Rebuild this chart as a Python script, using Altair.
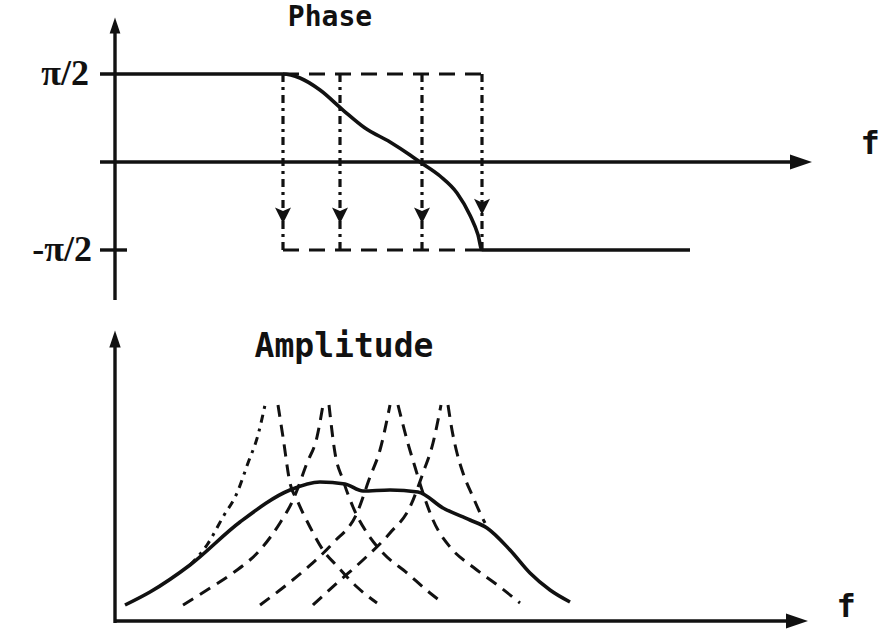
import math

import altair as alt
import pandas as pd

HALF_PI = math.pi / 2
INK = "#111111"
TITLE_FONT = "DejaVu Sans Mono"
LABEL_FONT = "Liberation Serif"

# Shared frequency scale (arbitrary units, 0 at the vertical axis)
F_DOMAIN = [-11.5, 76.5]

# ---------------- Phase panel data ----------------
phase_f = [-1.5, 0.0, 16.8, 18.5, 20.5, 22.8, 25.0, 27.5, 29.5, 30.5,
           32.5, 34.2, 35.5, 36.3, 36.7, 57.5]
phase_rad = [HALF_PI, HALF_PI, HALF_PI, 1.499, 1.285, 0.928, 0.607, 0.357,
             0.125, 0.0, -0.250, -0.553, -0.950, -1.300, -HALF_PI, -HALF_PI]

# Resonance frequencies of the individual modes
mode_f = [16.8, 22.5, 30.7, 36.7]
mode_arrow_phase = [-0.955, -0.955, -0.955, -0.80]

phase_tick_values = [HALF_PI, -HALF_PI]
phase_tick_labels = ["π/2", "-π/2"]

# ---------------- Amplitude panel data ----------------
amp_f = [1.0, 3.5, 7.5, 12.5, 17.5, 20.5, 23.0, 24.8, 27.5, 30.3, 32.8,
         35.5, 37.2, 39.5, 41.5, 43.5, 45.5]
amp_a = [1.6, 2.9, 5.6, 9.9, 13.1, 13.9, 13.7, 13.0, 13.1, 12.9, 11.3,
         10.1, 9.3, 7.1, 4.8, 3.1, 1.9]

# Individual mode responses: left (rising) and right (falling) branches
mode_branches = {
    "1L": ([7.5, 9.2, 10.8, 12.2, 13.3, 14.3, 15.0],
           [5.6, 7.6, 10.4, 12.8, 15.8, 18.6, 21.6]),
    "1R": ([16.3, 16.8, 17.5, 18.2, 19.5, 20.8, 22.3, 24.2, 26.2],
           [21.6, 18.4, 13.8, 12.1, 9.4, 7.1, 5.4, 3.4, 1.8]),
    "2L": ([6.8, 9.2, 11.8, 14.5, 16.5, 17.8, 19.2, 20.2, 20.8],
           [1.6, 3.1, 4.8, 7.1, 9.8, 12.1, 15.8, 18.4, 21.6]),
    "2R": ([21.4, 22.0, 22.8, 23.8, 25.2, 26.8, 29.2, 31.5, 32.8],
           [21.6, 16.8, 14.1, 11.4, 8.8, 6.8, 4.8, 2.8, 1.8]),
    "3L": ([14.5, 16.5, 19.2, 21.8, 24.2, 25.5, 26.5, 27.5],
           [1.6, 3.1, 5.3, 7.8, 10.8, 14.4, 17.1, 21.6]),
    "3R": ([28.3, 29.2, 30.0, 30.8, 31.8, 33.5, 35.8, 38.5, 40.5],
           [21.6, 18.1, 15.4, 12.8, 10.1, 7.4, 5.4, 3.4, 1.8]),
    "4L": ([19.8, 22.2, 24.8, 27.5, 29.5, 30.8, 31.8, 32.6],
           [1.6, 3.8, 6.1, 8.8, 11.4, 14.8, 17.8, 21.6]),
    "4R": ([33.3, 33.7, 34.2, 34.8, 35.8, 36.7, 37.0],
           [21.6, 19.1, 16.8, 14.8, 12.4, 10.4, 9.8]),
}

PHASE_DOMAIN = [-2.7668, 2.8917]
AMP_DOMAIN = [-1.3, 30.4]

ARROW_UP = "M0,-1L0.67,1L-0.67,1Z"
ARROW_RIGHT = "M1,0L-1,0.68L-1,-0.68Z"
ARROW_DOWN = "M0,1L-1,-1L0,-0.55L1,-1Z"


def xenc(field="f"):
    return alt.X(f"{field}:Q", scale=alt.Scale(domain=F_DOMAIN, nice=False, zero=False), axis=None)


def yenc(field, domain):
    return alt.Y(f"{field}:Q", scale=alt.Scale(domain=domain, nice=False, zero=False), axis=None)


# ---------------- Phase panel ----------------
py = lambda field="p": yenc(field, PHASE_DOMAIN)

phase_curve = alt.Chart(pd.DataFrame({"f": phase_f, "p": phase_rad})).mark_line(
    color=INK, strokeWidth=3.6, interpolate="monotone"
).encode(x=xenc(), y=py())

phase_axes = alt.Chart(pd.DataFrame({
    "f": [0.0, -1.5, -1.5], "f2": [0.0, 67.6, 1.2],
    "p": [-2.463, 0.0, -HALF_PI], "p2": [2.33, 0.0, -HALF_PI],
})).mark_rule(color=INK, strokeWidth=3.4).encode(
    x=xenc(), x2="f2:Q", y=py(), y2="p2:Q"
)

phase_arrow_up = alt.Chart(pd.DataFrame({"f": [0.0], "p": [2.437]})).mark_point(
    shape=ARROW_UP, size=256, filled=True, color=INK, opacity=1
).encode(x=xenc(), y=py())

phase_arrow_right = alt.Chart(pd.DataFrame({"f": [68.6], "p": [0.0]})).mark_point(
    shape=ARROW_RIGHT, size=484, filled=True, color=INK, opacity=1
).encode(x=xenc(), y=py())

mode_df = pd.DataFrame({
    "f": mode_f, "top": [HALF_PI] * 4, "bottom": [-HALF_PI] * 4,
    "arrow": mode_arrow_phase,
})

mode_verticals = alt.Chart(mode_df).mark_rule(
    color=INK, strokeWidth=3.2, strokeDash=[8, 5, 3, 5]
).encode(x=xenc(), y=py("top"), y2="bottom:Q")

mode_arrows = alt.Chart(mode_df).mark_point(
    shape=ARROW_DOWN, size=256, filled=True, color=INK, opacity=1
).encode(x=xenc(), y=py("arrow"))

box_df = pd.DataFrame({
    "f": [mode_f[0], mode_f[0]], "f2": [mode_f[-1], mode_f[-1]],
    "p": [HALF_PI, -HALF_PI], "kind": ["top", "bottom"],
})
box_lines = alt.Chart(box_df).mark_rule(
    color=INK, strokeWidth=3.2, strokeDash=[16, 10]
).encode(x=xenc(), x2="f2:Q", y=py())

tick_labels = alt.Chart(pd.DataFrame({
    "f": [-2.6, -2.3], "p": phase_tick_values, "label": phase_tick_labels,
})).mark_text(
    align="right", baseline="middle", font=LABEL_FONT, fontSize=36,
    fontWeight="bold", color=INK
).encode(x=xenc(), y=py(), text="label:N")

phase_texts = alt.Chart(pd.DataFrame({
    "f": [21.5, 75.5], "p": [2.570, 0.321], "label": ["Phase", "f"],
    "size": [28, 32],
})).mark_text(
    align="center", baseline="middle", font=TITLE_FONT, fontWeight="bold", color=INK
).encode(x=xenc(), y=py(), text="label:N", size=alt.Size("size:Q", scale=None, legend=None))

phase_panel = alt.layer(
    box_lines, mode_verticals, mode_arrows, phase_axes, phase_curve,
    phase_arrow_up, phase_arrow_right, tick_labels, phase_texts,
).properties(width=880, height=317)

# ---------------- Amplitude panel ----------------
ay = lambda field="a": yenc(field, AMP_DOMAIN)

amp_curve = alt.Chart(pd.DataFrame({"f": amp_f, "a": amp_a})).mark_line(
    color=INK, strokeWidth=3.6, interpolate="monotone"
).encode(x=xenc(), y=ay())

rows = []
for name, (fs, vals) in mode_branches.items():
    style = "dashdot" if name == "1L" else "dash"
    for i, (fv, av) in enumerate(zip(fs, vals)):
        rows.append({"branch": name, "style": style, "order": i, "f": fv, "a": av})
branch_df = pd.DataFrame(rows)

mode_curves = alt.Chart(branch_df).mark_line(
    color=INK, strokeWidth=3.0, interpolate="monotone"
).encode(
    x=xenc(), y=ay(), detail="branch:N", order="order:Q",
    strokeDash=alt.StrokeDash(
        "style:N",
        scale=alt.Scale(domain=["dash", "dashdot"], range=[[12, 8], [8, 6, 3, 6]]),
        legend=None,
    ),
)

amp_axes = alt.Chart(pd.DataFrame({
    "f": [0.0, 0.0], "f2": [0.0, 67.4], "a": [-0.2, 0.0], "a2": [27.4, 0.0],
})).mark_rule(color=INK, strokeWidth=3.4).encode(x=xenc(), x2="f2:Q", y=ay(), y2="a2:Q")

amp_arrow_up = alt.Chart(pd.DataFrame({"f": [0.0], "a": [28.2]})).mark_point(
    shape=ARROW_UP, size=289, filled=True, color=INK, opacity=1
).encode(x=xenc(), y=ay())

amp_arrow_right = alt.Chart(pd.DataFrame({"f": [68.2], "a": [0.0]})).mark_point(
    shape=ARROW_RIGHT, size=484, filled=True, color=INK, opacity=1
).encode(x=xenc(), y=ay())

amp_texts = alt.Chart(pd.DataFrame({
    "f": [22.9, 73.1], "a": [27.4, 1.4], "label": ["Amplitude", "f"],
    "size": [33, 32],
})).mark_text(
    align="center", baseline="middle", font=TITLE_FONT, fontWeight="bold", color=INK
).encode(x=xenc(), y=ay(), text="label:N", size=alt.Size("size:Q", scale=None, legend=None))

amp_panel = alt.layer(
    mode_curves, amp_axes, amp_curve, amp_arrow_up, amp_arrow_right, amp_texts,
).properties(width=880, height=317)

chart = alt.vconcat(phase_panel, amp_panel, spacing=0).properties(
    padding=0, background="white"
).configure_view(stroke=None)

chart.save("out.html", embed_options={"renderer": "svg", "actions": False})
